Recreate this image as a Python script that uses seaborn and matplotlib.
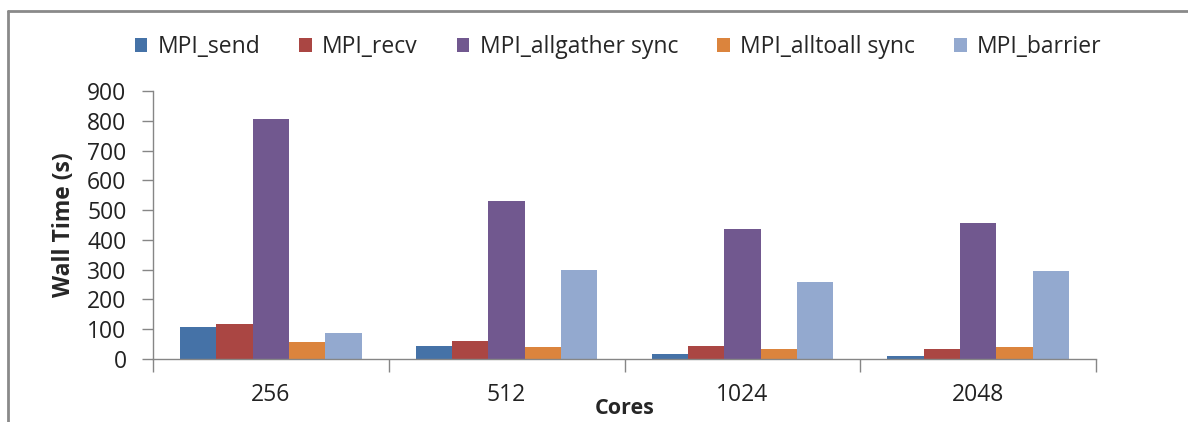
import matplotlib
matplotlib.use("Agg")
import matplotlib.pyplot as plt
from matplotlib.lines import Line2D
import seaborn as sns
import pandas as pd

cores = ["256", "512", "1024", "2048"]
series = ["MPI_send", "MPI_recv", "MPI_allgather sync", "MPI_alltoall sync", "MPI_barrier"]
mpi_send = [108, 44, 18, 9]
mpi_recv = [117, 60, 44, 35]
mpi_allgather = [806, 530, 435, 457]
mpi_alltoall = [56, 39, 35, 39]
mpi_barrier = [86, 298, 259, 294]
colors = ["#4572A7", "#AA4643", "#71588F", "#DB843D", "#93A9CF"]

rows = []
for name, vals in zip(series, [mpi_send, mpi_recv, mpi_allgather, mpi_alltoall, mpi_barrier]):
    for c, v in zip(cores, vals):
        rows.append({"Cores": c, "Series": name, "Wall Time": v})
df = pd.DataFrame(rows)

sns.set_theme(style="white")
plt.rcParams["font.family"] = ["Open Sans", "DejaVu Sans"]

fig = plt.figure(figsize=(11.88, 4.22), dpi=100)
ax = fig.add_axes([153 / 1188, 1 - 359 / 422, (1096 - 153) / 1188, (359 - 91) / 422])

sns.barplot(data=df, x="Cores", y="Wall Time", hue="Series", order=cores,
            hue_order=series, palette=colors, width=0.77, gap=0,
            saturation=1, edgecolor="none", linewidth=0, ax=ax, legend=True)

ax.set_ylim(0, 900)
ax.set_xlim(-0.5, 3.5)
ax.set_yticks(range(0, 901, 100))
ax.tick_params(axis="y", which="major", direction="out", length=8, width=1,
               color="#868686", labelsize=16.5, labelcolor="#222222", left=True, pad=11)
ax.set_xticks(range(len(cores)))
ax.set_xticklabels(cores)
ax.tick_params(axis="x", which="major", length=0, labelsize=16.5,
               labelcolor="#222222", pad=17)
ax.set_xticks([-0.5, 0.5, 1.5, 2.5, 3.5], minor=True)
ax.tick_params(axis="x", which="minor", direction="out", length=9, width=1,
               color="#868686", bottom=True)

for side in ["top", "right"]:
    ax.spines[side].set_visible(False)
for side in ["left", "bottom"]:
    ax.spines[side].set_color("#868686")
    ax.spines[side].set_linewidth(1)

ax.set_ylabel("Wall Time (s)", fontsize=16.5, fontweight="bold", labelpad=8)
ax.set_xlabel("Cores", fontsize=15.5, fontweight="bold", labelpad=-6)

handles, labels = ax.get_legend_handles_labels()
ax.get_legend().remove()
fig.legend(handles, labels, loc="center", bbox_to_anchor=(618 / 1188, 1 - 47 / 422),
           ncol=5, frameon=False, fontsize=16.5, handlelength=0.55, handleheight=0.55,
           handletextpad=0.45, columnspacing=1.7)

# outer frame
fig.add_artist(Line2D([8 / 1188, 8 / 1188], [0, 1 - 11 / 422], transform=fig.transFigure,
                      color="#8a8a8a", linewidth=2))
fig.add_artist(Line2D([8 / 1188, 1], [1 - 11 / 422, 1 - 11 / 422], transform=fig.transFigure,
                      color="#8a8a8a", linewidth=2))

fig.savefig("out.png", dpi=100)
